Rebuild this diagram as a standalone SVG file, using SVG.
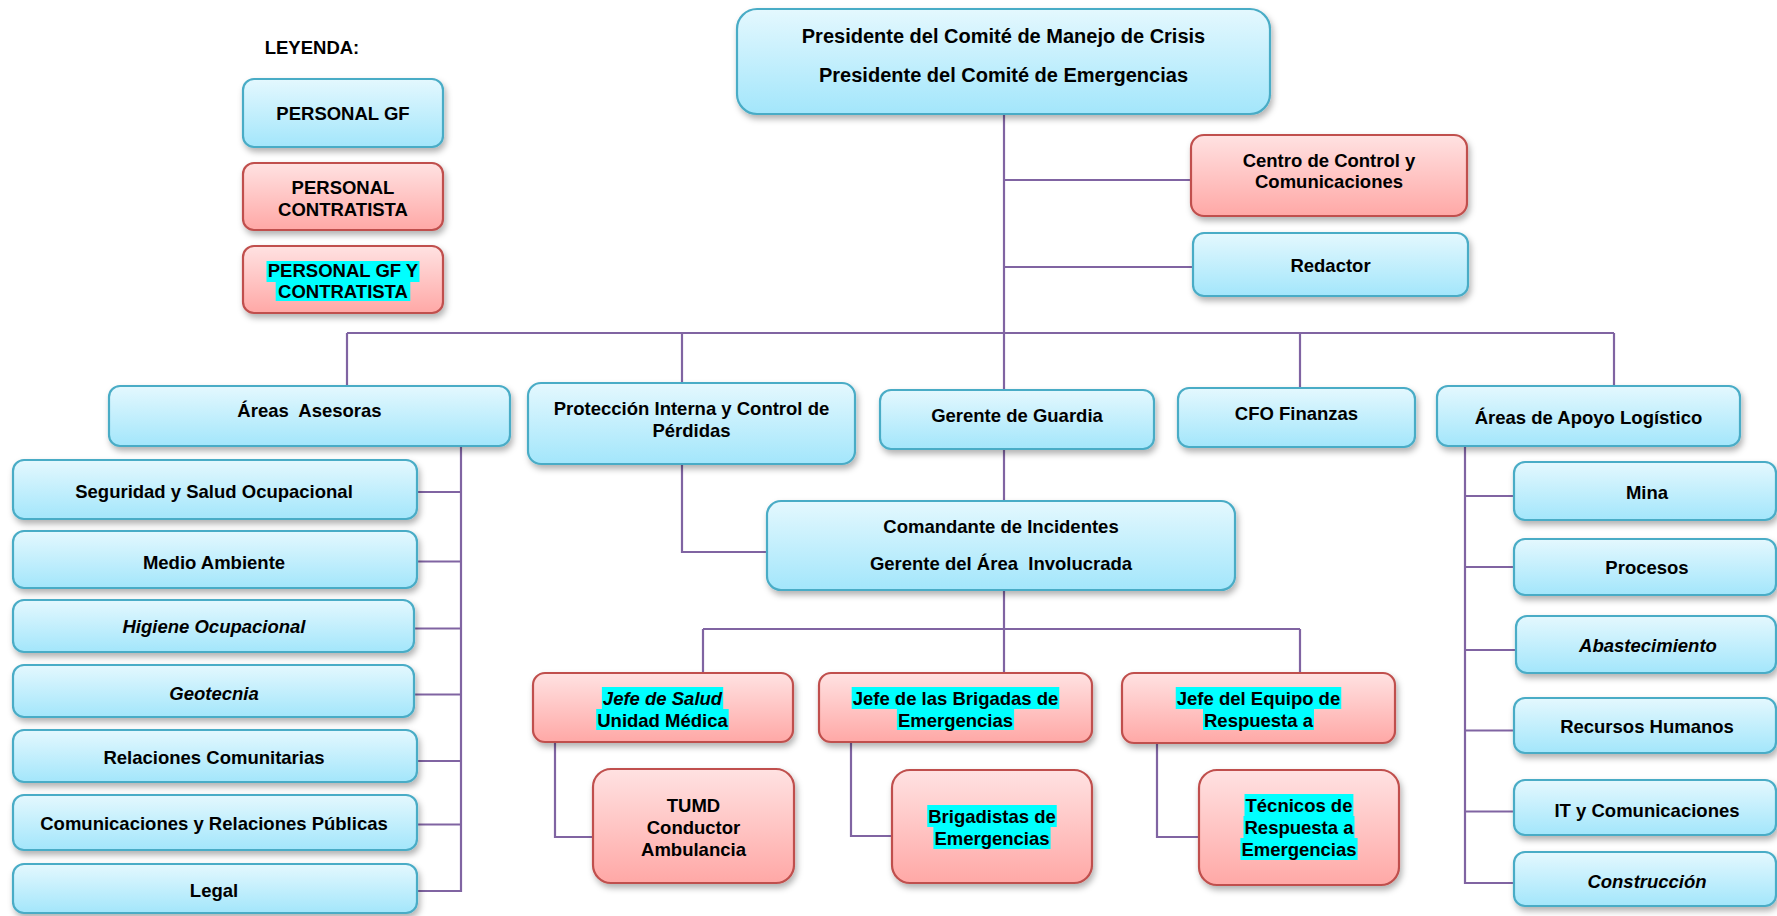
<svg xmlns="http://www.w3.org/2000/svg" width="1777" height="916" viewBox="0 0 1777 916">
<defs>
<linearGradient id="gb" x1="0" y1="0" x2="0" y2="1">
<stop offset="0" stop-color="#e4f8fe"/>
<stop offset="1" stop-color="#a3e6fb"/>
</linearGradient>
<linearGradient id="gr" x1="0" y1="0" x2="0" y2="1">
<stop offset="0" stop-color="#ffe2e2"/>
<stop offset="1" stop-color="#ffa8a6"/>
</linearGradient>
<filter id="sh" x="-10%" y="-20%" width="125%" height="150%">
<feDropShadow dx="2" dy="4" stdDeviation="3" flood-color="#000" flood-opacity="0.3"/>
</filter>
</defs>
<style>
.b{fill:url(#gb);stroke:#4aacc6;stroke-width:2.2;filter:url(#sh)}
.r{fill:url(#gr);stroke:#c0504d;stroke-width:2.2;filter:url(#sh)}
text{font-family:"Liberation Sans",Arial,sans-serif;font-weight:bold;font-size:18.5px;fill:#000;text-anchor:middle}
.i{font-style:italic}
.p{font-size:20px}
.hl{fill:#00ffff}
#connectors path{fill:none;stroke:#8064a2;stroke-width:2.2}
</style>
<rect width="1777" height="916" fill="#fff"/>

<g id="connectors">
<path d="M1004 114V333"/>
<path d="M1004 180H1191"/>
<path d="M1004 267H1193"/>
<path d="M347 333H1614"/>
<path d="M347 333V386"/>
<path d="M682 333V383"/>
<path d="M1004 333V390"/>
<path d="M1300 333V388"/>
<path d="M1614 333V386"/>
<path d="M1004 449V501"/>
<path d="M682 464V552H767"/>
<path d="M461 446V891H417"/>
<path d="M417 492H461M417 561.5H461M414 628.5H461M414 694.5H461M417 761H461M417 824.5H461"/>
<path d="M1465 446V883H1514"/>
<path d="M1465 496H1514M1465 567H1514M1465 650H1516M1465 730.5H1514M1465 811.5H1514"/>
<path d="M1004 590V629"/>
<path d="M703 629H1300"/>
<path d="M703 629V673M1004 629V673M1300 629V673"/>
<path d="M555 742V837H593"/>
<path d="M851 742V836H892"/>
<path d="M1157 743V837H1199"/>
</g>

<g id="legend-title"><text x="312" y="54">LEYENDA:</text></g>
<g id="legend-gf"><rect class="b" x="243" y="79" width="200" height="68" rx="11"/><text x="343" y="120">PERSONAL GF</text></g>
<g id="legend-contratista"><rect class="r" x="243" y="163" width="200" height="67" rx="11"/><text x="343" y="194">PERSONAL</text><text x="343" y="216">CONTRATISTA</text></g>
<g id="legend-ambos"><rect class="r" x="243" y="246" width="200" height="67" rx="11"/>
<rect class="hl" x="266.5" y="261" width="153" height="21"/><rect class="hl" x="275.7" y="282" width="134.6" height="19"/>
<text x="343" y="277">PERSONAL GF Y</text><text x="343" y="298">CONTRATISTA</text></g>

<g id="presidente"><rect class="b" x="737" y="9" width="533" height="105" rx="20"/>
<text class="p" x="1003.5" y="43">Presidente del Comité de Manejo de Crisis</text>
<text class="p" x="1003.5" y="82">Presidente del Comité de Emergencias</text></g>

<g id="centro"><rect class="r" x="1191" y="135" width="276" height="81" rx="13"/>
<text x="1329" y="167">Centro de Control y</text><text x="1329" y="188">Comunicaciones</text></g>

<g id="redactor"><rect class="b" x="1193" y="233" width="275" height="63" rx="11"/><text x="1330.5" y="272">Redactor</text></g>

<g id="areas-asesoras"><rect class="b" x="109" y="386" width="401" height="60" rx="11"/><text x="309.5" y="417" xml:space="preserve">Áreas  Asesoras</text></g>
<g id="proteccion"><rect class="b" x="528" y="383" width="327" height="81" rx="13"/><text x="691.5" y="415">Protección Interna y Control de</text><text x="691.5" y="437">Pérdidas</text></g>
<g id="gerente-guardia"><rect class="b" x="880" y="390" width="274" height="59" rx="11"/><text x="1017" y="422">Gerente de Guardia</text></g>
<g id="cfo"><rect class="b" x="1178" y="388" width="237" height="59" rx="11"/><text x="1296.5" y="420">CFO Finanzas</text></g>
<g id="areas-apoyo"><rect class="b" x="1437" y="386" width="303" height="60" rx="11"/><text x="1588.5" y="424">Áreas de Apoyo Logístico</text></g>

<g id="comandante"><rect class="b" x="767" y="501" width="468" height="89" rx="14"/>
<text x="1001" y="533">Comandante de Incidentes</text><text x="1001" y="570" xml:space="preserve">Gerente del Área  Involucrada</text></g>

<g id="seguridad"><rect class="b" x="13" y="460" width="404" height="59" rx="11"/><text x="214" y="498">Seguridad y Salud Ocupacional</text></g>
<g id="medio-ambiente"><rect class="b" x="13" y="531" width="404" height="57" rx="11"/><text x="214" y="568.5">Medio Ambiente</text></g>
<g id="higiene"><rect class="b" x="13" y="600" width="401" height="52" rx="11"/><text class="i" x="214" y="633">Higiene Ocupacional</text></g>
<g id="geotecnia"><rect class="b" x="13" y="665" width="401" height="52" rx="11"/><text class="i" x="214" y="699.5">Geotecnia</text></g>
<g id="relaciones-comunitarias"><rect class="b" x="13" y="730" width="404" height="52" rx="11"/><text x="214" y="764">Relaciones Comunitarias</text></g>
<g id="comunicaciones-rp"><rect class="b" x="13" y="795" width="404" height="55" rx="11"/><text x="214" y="830">Comunicaciones y Relaciones Públicas</text></g>
<g id="legal"><rect class="b" x="13" y="864" width="404" height="49" rx="11"/><text x="214" y="897">Legal</text></g>

<g id="mina"><rect class="b" x="1514" y="462" width="262" height="58" rx="11"/><text x="1647" y="499">Mina</text></g>
<g id="procesos"><rect class="b" x="1514" y="539" width="262" height="56" rx="11"/><text x="1647" y="574">Procesos</text></g>
<g id="abastecimiento"><rect class="b" x="1516" y="616" width="260" height="57" rx="11"/><text class="i" x="1648" y="652">Abastecimiento</text></g>
<g id="recursos-humanos"><rect class="b" x="1514" y="698" width="262" height="55" rx="11"/><text x="1647" y="733">Recursos Humanos</text></g>
<g id="it"><rect class="b" x="1514" y="780" width="262" height="55" rx="11"/><text x="1647" y="817">IT y Comunicaciones</text></g>
<g id="construccion"><rect class="b" x="1514" y="852" width="262" height="54" rx="11"/><text class="i" x="1647" y="888">Construcción</text></g>

<g id="jefe-salud"><rect class="r" x="533" y="673" width="260" height="69" rx="12"/>
<rect class="hl" x="601.9" y="687" width="121.3" height="22"/><rect class="hl" x="596.2" y="709" width="132.5" height="21"/>
<text class="i" x="662.5" y="705">Jefe de Salud</text><text x="662.5" y="727">Unidad Médica</text></g>

<g id="jefe-brigadas"><rect class="r" x="819" y="673" width="273" height="69" rx="12"/>
<rect class="hl" x="851.7" y="687" width="207.6" height="22"/><rect class="hl" x="896.9" y="709" width="117.2" height="21"/>
<text x="955.5" y="705">Jefe de las Brigadas de</text><text x="955.5" y="727">Emergencias</text></g>

<g id="jefe-equipo"><rect class="r" x="1122" y="673" width="273" height="70" rx="12"/>
<rect class="hl" x="1175.75" y="687" width="165.5" height="22"/><rect class="hl" x="1203" y="709" width="111" height="21"/>
<text x="1258.5" y="705">Jefe del Equipo de</text><text x="1258.5" y="727">Respuesta a</text></g>

<g id="tumd"><rect class="r" x="593" y="769" width="201" height="114" rx="18"/>
<text x="693.5" y="812">TUMD</text><text x="693.5" y="834">Conductor</text><text x="693.5" y="856">Ambulancia</text></g>

<g id="brigadistas"><rect class="r" x="892" y="770" width="200" height="113" rx="18"/>
<rect class="hl" x="927.25" y="805" width="129.5" height="22"/><rect class="hl" x="933.4" y="827" width="117.2" height="22"/>
<text x="992" y="823">Brigadistas de</text><text x="992" y="845">Emergencias</text></g>

<g id="tecnicos"><rect class="r" x="1199" y="770" width="200" height="115" rx="18"/>
<rect class="hl" x="1244.5" y="794" width="108.9" height="22"/><rect class="hl" x="1243.5" y="816" width="111" height="22"/><rect class="hl" x="1240.4" y="838" width="117.2" height="22"/>
<text x="1299" y="812">Técnicos de</text><text x="1299" y="834">Respuesta a</text><text x="1299" y="856">Emergencias</text></g>
</svg>
